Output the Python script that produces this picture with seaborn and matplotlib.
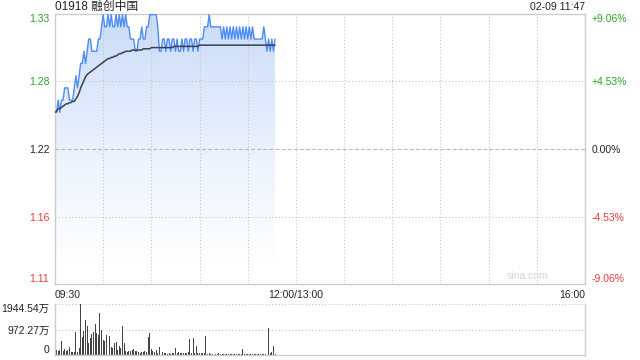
import numpy as np
import pandas as pd
import matplotlib
matplotlib.use("Agg")
import matplotlib.pyplot as plt
import seaborn as sns
from matplotlib.colors import LinearSegmentedColormap

# ---------------- data ----------------
title = "01918 融创中国"
stamp = "02-09 11:47"
prev_close = 1.22

price = [
    1.25, 1.25, 1.26, 1.25, 1.26, 1.26, 1.27, 1.27, 1.27, 1.26,
    1.26, 1.26, 1.27, 1.28, 1.27, 1.28, 1.29, 1.29, 1.30, 1.29,
    1.30, 1.31, 1.31, 1.30, 1.30, 1.30, 1.30, 1.31, 1.31, 1.32,
    1.33, 1.32, 1.32, 1.33, 1.32, 1.33, 1.32, 1.32, 1.33, 1.32,
    1.33, 1.32, 1.33, 1.32, 1.33, 1.32, 1.32, 1.31, 1.31, 1.31,
    1.30, 1.30, 1.31, 1.31, 1.32, 1.31, 1.31, 1.32, 1.32, 1.33,
    1.33, 1.33, 1.33, 1.33, 1.32, 1.30, 1.30, 1.31, 1.31, 1.30,
    1.31, 1.31, 1.30, 1.31, 1.31, 1.30, 1.31, 1.30, 1.30, 1.31,
    1.30, 1.31, 1.31, 1.30, 1.31, 1.31, 1.30, 1.31, 1.31, 1.30,
    1.31, 1.31, 1.31, 1.32, 1.32, 1.32, 1.33, 1.32, 1.32, 1.32,
    1.32, 1.32, 1.32, 1.32, 1.31, 1.32, 1.31, 1.32, 1.31, 1.32,
    1.31, 1.32, 1.31, 1.32, 1.31, 1.32, 1.31, 1.32, 1.31, 1.32,
    1.31, 1.32, 1.31, 1.32, 1.31, 1.31, 1.31, 1.31, 1.31, 1.31,
    1.32, 1.31, 1.30, 1.31, 1.30, 1.31, 1.30, 1.31,
]

avg_price = [
    1.250, 1.251, 1.253, 1.253, 1.254, 1.255, 1.256, 1.257, 1.257, 1.258,
    1.258, 1.259, 1.259, 1.261, 1.263, 1.266, 1.270, 1.273, 1.276, 1.279,
    1.281, 1.282, 1.283, 1.284, 1.285, 1.286, 1.287, 1.288, 1.289, 1.290,
    1.291, 1.292, 1.293, 1.294, 1.294, 1.295, 1.295, 1.296, 1.296, 1.297,
    1.298, 1.298, 1.299, 1.299, 1.300, 1.300, 1.300, 1.300, 1.301, 1.301,
    1.301, 1.301, 1.301, 1.301, 1.301, 1.302, 1.302, 1.302, 1.302, 1.302,
    1.303, 1.303, 1.303, 1.303, 1.303, 1.303, 1.303, 1.303, 1.303, 1.303,
    1.303, 1.303, 1.303, 1.303, 1.304, 1.304, 1.304, 1.304, 1.304, 1.304,
    1.304, 1.304, 1.304, 1.304, 1.304, 1.304, 1.304, 1.304, 1.304, 1.304,
    1.305, 1.305, 1.305, 1.305, 1.305, 1.305, 1.305, 1.305, 1.305, 1.305,
    1.305, 1.305, 1.305, 1.305, 1.305, 1.305, 1.305, 1.305, 1.305, 1.305,
    1.305, 1.305, 1.305, 1.305, 1.305, 1.305, 1.305, 1.305, 1.305, 1.305,
    1.305, 1.305, 1.305, 1.305, 1.305, 1.305, 1.305, 1.305, 1.305, 1.305,
    1.305, 1.305, 1.305, 1.305, 1.305, 1.305, 1.305, 1.305,
]

# volume in 万 shares per minute
volume = [
    583, 194, 168, 194, 544, 168, 233, 156, 194, 311,
    130, 130, 130, 881, 130, 259, 1944, 687, 907, 1322,
    1102, 454, 648, 816, 868, 1167, 843, 778, 1594, 972,
    583, 518, 778, 259, 713, 324, 259, 454, 480, 194,
    350, 285, 1102, 454, 156, 130, 168, 168, 194, 233,
    168, 143, 104, 91, 130, 130, 156, 130, 674, 843,
    220, 168, 104, 194, 91, 324, 480, 130, 65, 65,
    52, 65, 39, 65, 65, 259, 91, 130, 91, 91,
    65, 65, 91, 130, 622, 65, 661, 91, 350, 78,
    65, 91, 65, 65, 739, 52, 65, 39, 52, 39,
    52, 39, 65, 39, 52, 26, 39, 52, 39, 26,
    39, 52, 39, 52, 26, 39, 39, 233, 39, 52,
    26, 39, 52, 39, 26, 39, 52, 39, 26, 39,
    52, 39, 26, 1037, 65, 130, 350, 39,
]

minutes = list(range(len(price)))          # minutes since 09:30 (lunch removed)
session_len = 330
x_tick_pos = [0, 150, 330]
x_tick_labels = ["09:30", "12:00/13:00", "16:00"]
grid_x = [30, 60, 90, 120, 150, 180, 210, 240, 270, 300]

price_ticks = [1.1095, 1.1647, 1.22, 1.2753, 1.3305]
price_labels = ["1.11", "1.16", "1.22", "1.28", "1.33"]
pct_labels = ["-9.06%", "-4.53%", "0.00%", "+4.53%", "+9.06%"]
vol_ticks = [0, 972.27, 1944.54]
vol_labels = ["0", "972.27万", "1944.54万"]

# ---------------- style ----------------
sns.set_theme(style="white")
plt.rcParams["font.family"] = ["Liberation Sans", "Noto Sans CJK SC", "DejaVu Sans"]
plt.rcParams["axes.unicode_minus"] = False

GREEN = "#29a329"
RED = "#ec3a3a"
BLACK = "#222222"
GRID = "#c4c4c4"
SPINE = "#cccccc"
LINE = "#4d8cf5"
AVG = "#39414f"
label_colors = [RED, RED, BLACK, GREEN, GREEN]

fig = plt.figure(figsize=(6.4, 3.6), dpi=100)
ax = fig.add_axes([55 / 640, 1 - 284 / 360, 530 / 640, 270 / 360])
ax2 = fig.add_axes([55 / 640, 1 - 355 / 360, 530 / 640, 51 / 360])

df = pd.DataFrame({"minute": minutes, "price": price, "avg": avg_price, "volume": volume})

ylo, yhi = price_ticks[0], price_ticks[-1]

# gradient area under price
poly = ax.fill_between(df["minute"], df["price"], ylo, color="none", lw=0)
cmap = LinearSegmentedColormap.from_list(
    "g", [(0.0, "#ffffff"), (0.07, "#ffffff"), (0.45, "#eef3fd"), (1.0, "#cadcf8")])
grad = np.linspace(0, 1, 256).reshape(-1, 1)
im = ax.imshow(grad, extent=[0, len(price) - 1, ylo, yhi], origin="lower",
               aspect="auto", cmap=cmap, zorder=1)
im.set_clip_path(poly.get_paths()[0], transform=ax.transData)

# grid lines (drawn over the fill)
for gx in grid_x:
    ax.axvline(gx, color=GRID, lw=0.8, ls=(0, (1, 2)), zorder=2)
for gy in (price_ticks[1], price_ticks[3]):
    ax.axhline(gy, color=GRID, lw=0.8, ls=(0, (1, 2)), zorder=2)
ax.axhline(price_ticks[2], color="#b8b8b8", lw=0.8, ls=(0, (3.5, 2)), zorder=2)

sns.lineplot(data=df, x="minute", y="price", ax=ax, color=LINE, lw=1.0, zorder=3)
sns.lineplot(data=df, x="minute", y="avg", ax=ax, color=AVG, lw=1.1, zorder=4)

ax.set_xlim(0, session_len)
ax.set_ylim(ylo, yhi)
ax.set_xlabel("")
ax.set_ylabel("")
for s in ax.spines.values():
    s.set_color(SPINE)
    s.set_linewidth(1.0)

ax.set_yticks(price_ticks)
ax.set_yticklabels(price_labels)
ax.tick_params(axis="y", length=0, pad=4, labelsize=7.5)
for i, (lbl, c) in enumerate(zip(ax.get_yticklabels(), label_colors)):
    lbl.set_color(c)
    if i == 0:
        lbl.set_va("bottom")
    elif i == len(price_ticks) - 1:
        lbl.set_va("top")

ax.set_xticks(x_tick_pos)
ax.set_xticklabels(x_tick_labels)
ax.tick_params(axis="x", length=0, pad=4, labelsize=7.5, labelcolor=BLACK)
for lbl, ha in zip(ax.get_xticklabels(), ["left", "center", "right"]):
    lbl.set_ha(ha)

axr = ax.twinx()
axr.set_ylim(ylo, yhi)
axr.set_yticks(price_ticks)
axr.set_yticklabels(pct_labels)
axr.tick_params(axis="y", length=0, pad=5, labelsize=7.5)
for s in axr.spines.values():
    s.set_visible(False)
for i, (lbl, c) in enumerate(zip(axr.get_yticklabels(), label_colors)):
    lbl.set_color(c)
    if i == 0:
        lbl.set_va("bottom")
    elif i == len(price_ticks) - 1:
        lbl.set_va("top")

ax.text(0, 1.005, title, transform=ax.transAxes, ha="left", va="bottom",
        fontsize=8.5, color=BLACK)
ax.text(1, 1.008, stamp, transform=ax.transAxes, ha="right", va="bottom",
        fontsize=7.5, color=BLACK)
ax.text(0.93, 0.012, "sina.com", transform=ax.transAxes, ha="right", va="bottom",
        fontsize=7.5, color="#d4d4d4")

# volume
ax2.bar(df["minute"], df["volume"], width=0.62, color="#444444", lw=0)
ax2.set_xlim(0, session_len)
ax2.set_ylim(0, vol_ticks[-1])
ax2.axhline(vol_ticks[1], color=GRID, lw=0.8, ls=(0, (1, 2)), zorder=0)
ax2.axhline(vol_ticks[2], color=GRID, lw=0.8, ls=(0, (1, 2)), zorder=0, clip_on=False)
ax2.set_xticks([])
ax2.set_yticks(vol_ticks)
ax2.set_yticklabels(vol_labels)
ax2.tick_params(axis="y", length=0, pad=4, labelsize=7.5, labelcolor=BLACK)
for i, lbl in enumerate(ax2.get_yticklabels()):
    if i == 0:
        lbl.set_va("bottom")
    elif i == len(vol_ticks) - 1:
        lbl.set_va("top")
for name, s in ax2.spines.items():
    s.set_color(SPINE)
    s.set_linewidth(1.0)
ax2.spines["top"].set_visible(False)
ax2.set_xlabel("")
ax2.set_ylabel("")

fig.savefig("out.png", dpi=100)
